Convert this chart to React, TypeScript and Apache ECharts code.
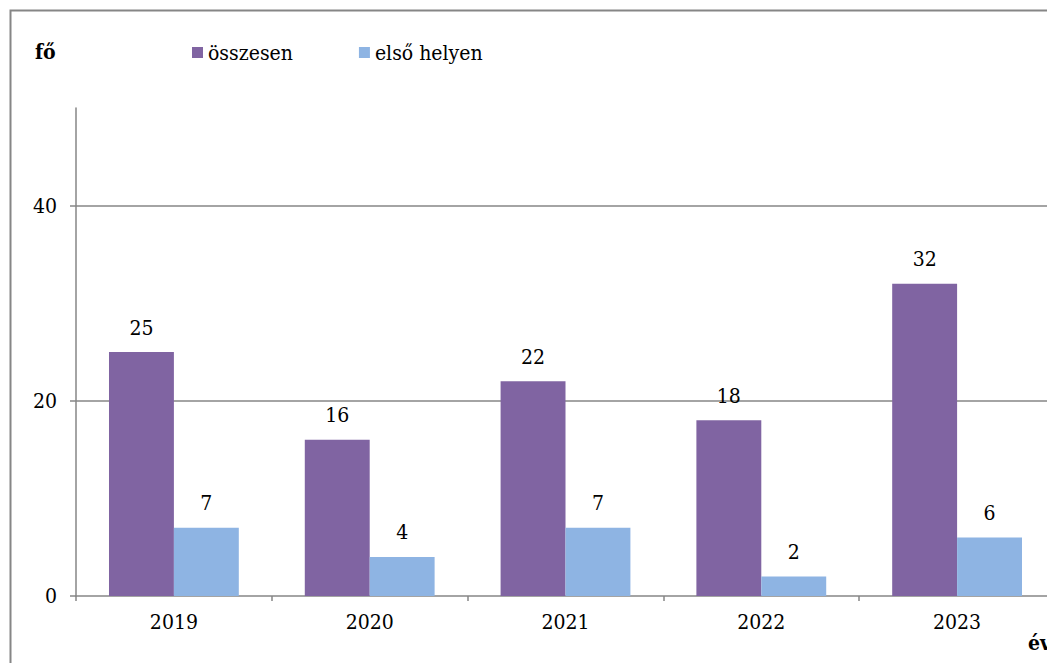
import React, { useEffect, useRef } from "react";
import * as echarts from "echarts";

const categories = ["2019", "2020", "2021", "2022", "2023"];
const osszesen = [25, 16, 22, 18, 32];
const elsoHelyen = [7, 4, 7, 2, 6];
const yTicks = [0, 20, 40];

const FONT = "DejaVu Serif Condensed, DejaVu Serif";
const GRAY = "#868686";
const FS = 21;

export default function App() {
  const ref = useRef<HTMLDivElement>(null);
  useEffect(() => {
    if (!ref.current) return;
    const chart = echarts.init(ref.current, undefined, { renderer: "svg" });
    chart.setOption({
      animation: false,
      textStyle: { fontFamily: FONT, color: "#000" },
      graphic: [
        {
          type: "rect",
          left: 0,
          top: 0,
          shape: { x: 0, y: 0, width: 1100, height: 700 },
          style: { fill: "none", stroke: GRAY, lineWidth: 2 },
          silent: true,
        },
        {
          type: "text",
          x: 27,
          y: 33,
          style: { text: "fő", fontFamily: FONT, fontWeight: "bold", fontSize: FS, fill: "#000" },
        },
        {
          type: "text",
          x: 1020,
          y: 624,
          style: { text: "év", fontFamily: FONT, fontWeight: "bold", fontSize: FS, fill: "#000" },
        },
      ],
      legend: {
        left: 184,
        top: 34,
        padding: 0,
        itemWidth: 11,
        itemHeight: 11,
        itemGap: 66,
        icon: "rect",
        textStyle: { fontFamily: FONT, fontSize: FS, color: "#000" },
        data: ["összesen", "első helyen"],
      },
      grid: { left: 68, right: -1, top: 100, bottom: 67, containLabel: false },
      xAxis: {
        type: "category",
        data: categories,
        axisLine: { lineStyle: { color: GRAY, width: 1.5 } },
        axisTick: { show: true, length: 5, lineStyle: { color: GRAY, width: 1.5 } },
        axisLabel: { fontFamily: FONT, fontSize: FS, color: "#000", margin: 15 },
      },
      yAxis: {
        type: "value",
        min: 0,
        max: 50,
        interval: 20,
        axisLine: { show: true, lineStyle: { color: GRAY, width: 1.5 } },
        axisTick: { show: true, length: 6, customValues: yTicks, lineStyle: { color: GRAY, width: 1.5 } },
        axisLabel: { fontFamily: FONT, fontSize: FS, color: "#000", margin: 19, customValues: yTicks },
        splitLine: { show: false },
      },
      series: [
        {
          name: "összesen",
          type: "bar",
          data: osszesen,
          barGap: "0%",
          barCategoryGap: "33.7%",
          itemStyle: { color: "#8064A2" },
          label: { show: true, position: "top", distance: 14, fontFamily: FONT, fontSize: FS, color: "#000" },
          markLine: {
            silent: true,
            symbol: "none",
            label: { show: false },
            lineStyle: { color: GRAY, type: "solid", width: 1.5 },
            data: [{ yAxis: 20 }, { yAxis: 40 }],
            z: 0,
          },
          z: 3,
        },
        {
          name: "első helyen",
          type: "bar",
          data: elsoHelyen,
          itemStyle: { color: "#8EB4E3" },
          label: { show: true, position: "top", distance: 14, fontFamily: FONT, fontSize: FS, color: "#000" },
          z: 3,
        },
      ],
    });
    return () => chart.dispose();
  }, []);
  return <div ref={ref} style={{ width: 1047, height: 655 }} />;
}
